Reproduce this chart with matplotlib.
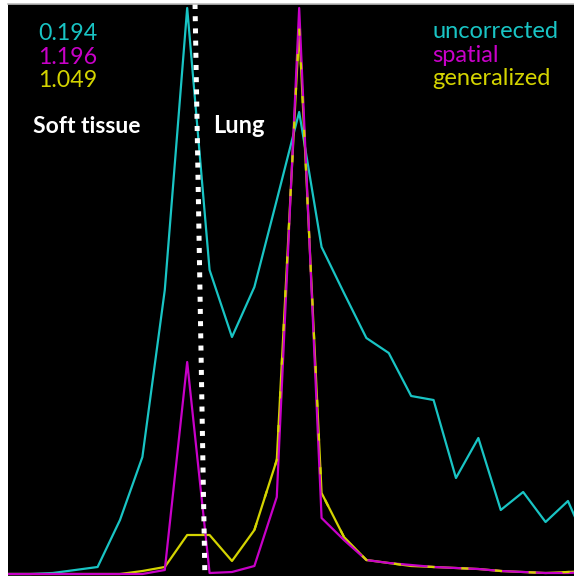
import matplotlib
matplotlib.use("Agg")
from matplotlib import pyplot as plt

# histogram bins (index) and counts
bins = list(range(27))
uncorrected = [0, 0, 1, 4, 7, 54, 117, 284, 566, 304, 237, 287, 374, 462, 327, 281,
               236, 221, 178, 174, 96, 136, 64, 82, 52, 73, 22]
spatial = [0, 0, 0, 0, 0, 0, 0, 4, 212, 1, 2, 8, 77, 566, 56, 34,
           14, 11, 9, 7, 6, 5, 3, 2, 1, 1, 2]
generalized = [0, 0, 0, 0, 0, 0, 3, 7, 39, 39, 13, 44, 114, 546, 81, 37,
               14, 11, 8, 7, 6, 5, 3, 2, 1, 2, 3]

# soft tissue / lung threshold (drawn slightly slanted)
boundary_x = [8.35, 8.79]
boundary_y = [570, -2]

scores = ['0.194', '1.196', '1.049']
names = ['uncorrected', 'spatial', 'generalized']

cyan = '#19C4C4'
magenta = '#C800C8'
yellow = '#D4D400'

W, H = 574, 576
fig = plt.figure(figsize=(W / 100, H / 100), dpi=100, facecolor='white')
ax = fig.add_axes([8 / W, 0, 566 / W, 572 / H])
ax.set_facecolor('black')

ax.plot(bins, uncorrected, color=cyan, lw=1.6)
ax.plot(bins, generalized, color=yellow, lw=1.6)
ax.plot(bins, spatial, color=magenta, lw=1.6)
# generalized peeks through where it nearly coincides with spatial
ax.plot(bins[11:], generalized[11:], color=yellow, lw=1.6, dashes=(3.2, 12))

ax.plot(boundary_x, boundary_y, color='white', lw=3.6, dashes=(1, 1.44))

ax.set_xlim(0, 25.27)
ax.set_ylim(-2, 570)
ax.set_xticks([])
ax.set_yticks([])
for s in ['left', 'right', 'bottom']:
    ax.spines[s].set_visible(False)
ax.spines['top'].set_color('#BBBBBB')
ax.spines['top'].set_linewidth(1.2)

font = 'Lato'
colors = [cyan, magenta, yellow]
for i in range(3):
    fig.text(38 / W, 1 - (40 + 23.5 * i) / H, scores[i], color=colors[i],
             fontsize=16.7, family=font, va='baseline')
    fig.text(432 / W, 1 - (38 + 23.5 * i) / H, names[i], color=colors[i],
             fontsize=17, family=font, va='baseline')

fig.text(33 / W, 1 - 133 / H, 'Soft tissue', color='white', fontsize=16.5,
         family=font, fontweight='bold', va='baseline')
fig.text(213 / W, 1 - 133 / H, 'Lung', color='white', fontsize=17,
         family=font, fontweight='bold', va='baseline')

fig.savefig('out.png', dpi=100, facecolor='white')
